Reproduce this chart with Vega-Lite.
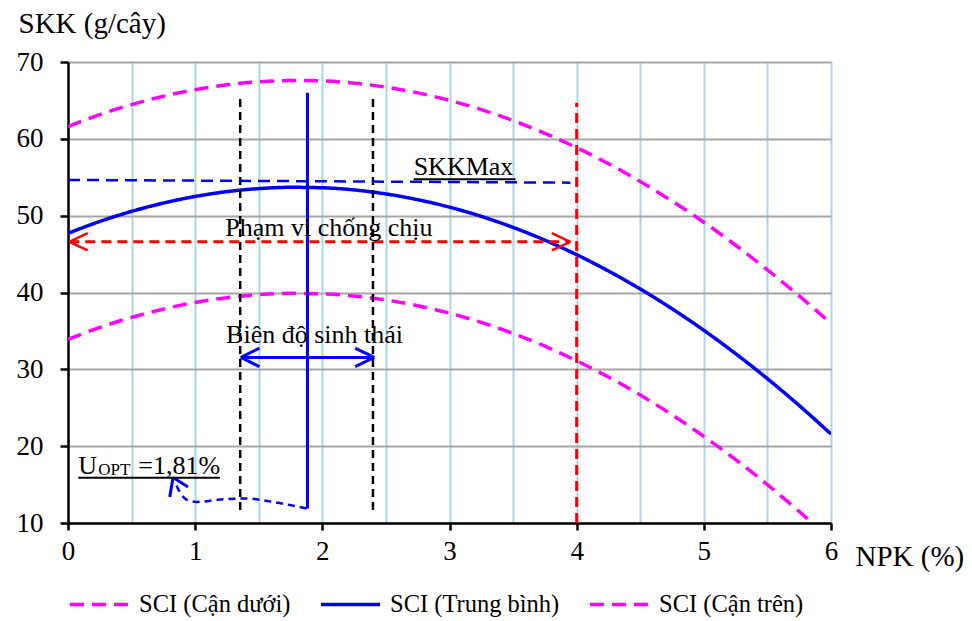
{
  "$schema": "https://vega.github.io/schema/vega-lite/v6.json",
  "autosize": {"type": "none"},
  "padding": {"left": 68, "top": 62, "right": 141, "bottom": 98},
  "width": 763,
  "height": 461,
  "background": "white",
  "config": {
    "view": {"stroke": null},
    "font": "Liberation Serif",
    "axis": {
      "labelFont": "Liberation Serif", "labelFontSize": 27, "labelColor": "black",
      "titleFont": "Liberation Serif", "titleFontSize": 29, "titleFontWeight": "normal", "titleColor": "black",
      "domainColor": "black", "domainWidth": 2.5, "tickColor": "black", "tickWidth": 2.5
    },
    "legend": {
      "orient": "none", "legendX": 0, "legendY": 511, "direction": "horizontal",
      "labelFont": "Liberation Serif", "labelFontSize": 24.5, "labelColor": "black", "labelLimit": 400,
      "symbolType": "stroke", "symbolSize": 3500, "symbolStrokeWidth": 3.5, "labelOffset": 8,
      "columnPadding": 22, "padding": 0, "title": null
    }
  },
  "datasets": {
    "curves": [
      {"npk": 0, "skk": 33.90, "series": "SCI (Cận dưới)"},
      {"npk": 0.25, "skk": 35.45, "series": "SCI (Cận dưới)"},
      {"npk": 0.5, "skk": 36.76, "series": "SCI (Cận dưới)"},
      {"npk": 0.75, "skk": 37.84, "series": "SCI (Cận dưới)"},
      {"npk": 1.0, "skk": 38.70, "series": "SCI (Cận dưới)"},
      {"npk": 1.25, "skk": 39.33, "series": "SCI (Cận dưới)"},
      {"npk": 1.5, "skk": 39.72, "series": "SCI (Cận dưới)"},
      {"npk": 1.75, "skk": 39.89, "series": "SCI (Cận dưới)"},
      {"npk": 2.0, "skk": 39.83, "series": "SCI (Cận dưới)"},
      {"npk": 2.25, "skk": 39.55, "series": "SCI (Cận dưới)"},
      {"npk": 2.5, "skk": 39.03, "series": "SCI (Cận dưới)"},
      {"npk": 2.75, "skk": 38.28, "series": "SCI (Cận dưới)"},
      {"npk": 3.0, "skk": 37.31, "series": "SCI (Cận dưới)"},
      {"npk": 3.25, "skk": 36.11, "series": "SCI (Cận dưới)"},
      {"npk": 3.5, "skk": 34.67, "series": "SCI (Cận dưới)"},
      {"npk": 3.75, "skk": 33.01, "series": "SCI (Cận dưới)"},
      {"npk": 4.0, "skk": 31.12, "series": "SCI (Cận dưới)"},
      {"npk": 4.25, "skk": 29.00, "series": "SCI (Cận dưới)"},
      {"npk": 4.5, "skk": 26.66, "series": "SCI (Cận dưới)"},
      {"npk": 4.75, "skk": 24.08, "series": "SCI (Cận dưới)"},
      {"npk": 5.0, "skk": 21.28, "series": "SCI (Cận dưới)"},
      {"npk": 5.25, "skk": 18.24, "series": "SCI (Cận dưới)"},
      {"npk": 5.5, "skk": 14.98, "series": "SCI (Cận dưới)"},
      {"npk": 5.75, "skk": 11.49, "series": "SCI (Cận dưới)"},
      {"npk": 6.0, "skk": 7.77, "series": "SCI (Cận dưới)"},
      {"npk": 0, "skk": 47.70, "series": "SCI (Trung bình)"},
      {"npk": 0.25, "skk": 49.25, "series": "SCI (Trung bình)"},
      {"npk": 0.5, "skk": 50.56, "series": "SCI (Trung bình)"},
      {"npk": 0.75, "skk": 51.64, "series": "SCI (Trung bình)"},
      {"npk": 1.0, "skk": 52.50, "series": "SCI (Trung bình)"},
      {"npk": 1.25, "skk": 53.13, "series": "SCI (Trung bình)"},
      {"npk": 1.5, "skk": 53.52, "series": "SCI (Trung bình)"},
      {"npk": 1.75, "skk": 53.69, "series": "SCI (Trung bình)"},
      {"npk": 2.0, "skk": 53.63, "series": "SCI (Trung bình)"},
      {"npk": 2.25, "skk": 53.35, "series": "SCI (Trung bình)"},
      {"npk": 2.5, "skk": 52.83, "series": "SCI (Trung bình)"},
      {"npk": 2.75, "skk": 52.08, "series": "SCI (Trung bình)"},
      {"npk": 3.0, "skk": 51.11, "series": "SCI (Trung bình)"},
      {"npk": 3.25, "skk": 49.91, "series": "SCI (Trung bình)"},
      {"npk": 3.5, "skk": 48.47, "series": "SCI (Trung bình)"},
      {"npk": 3.75, "skk": 46.81, "series": "SCI (Trung bình)"},
      {"npk": 4.0, "skk": 44.92, "series": "SCI (Trung bình)"},
      {"npk": 4.25, "skk": 42.80, "series": "SCI (Trung bình)"},
      {"npk": 4.5, "skk": 40.46, "series": "SCI (Trung bình)"},
      {"npk": 4.75, "skk": 37.88, "series": "SCI (Trung bình)"},
      {"npk": 5.0, "skk": 35.08, "series": "SCI (Trung bình)"},
      {"npk": 5.25, "skk": 32.04, "series": "SCI (Trung bình)"},
      {"npk": 5.5, "skk": 28.78, "series": "SCI (Trung bình)"},
      {"npk": 5.75, "skk": 25.29, "series": "SCI (Trung bình)"},
      {"npk": 6.0, "skk": 21.57, "series": "SCI (Trung bình)"},
      {"npk": 0, "skk": 61.60, "series": "SCI (Cận trên)"},
      {"npk": 0.25, "skk": 63.15, "series": "SCI (Cận trên)"},
      {"npk": 0.5, "skk": 64.46, "series": "SCI (Cận trên)"},
      {"npk": 0.75, "skk": 65.54, "series": "SCI (Cận trên)"},
      {"npk": 1.0, "skk": 66.40, "series": "SCI (Cận trên)"},
      {"npk": 1.25, "skk": 67.03, "series": "SCI (Cận trên)"},
      {"npk": 1.5, "skk": 67.42, "series": "SCI (Cận trên)"},
      {"npk": 1.75, "skk": 67.59, "series": "SCI (Cận trên)"},
      {"npk": 2.0, "skk": 67.53, "series": "SCI (Cận trên)"},
      {"npk": 2.25, "skk": 67.25, "series": "SCI (Cận trên)"},
      {"npk": 2.5, "skk": 66.73, "series": "SCI (Cận trên)"},
      {"npk": 2.75, "skk": 65.98, "series": "SCI (Cận trên)"},
      {"npk": 3.0, "skk": 65.01, "series": "SCI (Cận trên)"},
      {"npk": 3.25, "skk": 63.81, "series": "SCI (Cận trên)"},
      {"npk": 3.5, "skk": 62.37, "series": "SCI (Cận trên)"},
      {"npk": 3.75, "skk": 60.71, "series": "SCI (Cận trên)"},
      {"npk": 4.0, "skk": 58.85, "series": "SCI (Cận trên)"},
      {"npk": 4.25, "skk": 56.76, "series": "SCI (Cận trên)"},
      {"npk": 4.5, "skk": 54.45, "series": "SCI (Cận trên)"},
      {"npk": 4.75, "skk": 51.90, "series": "SCI (Cận trên)"},
      {"npk": 5.0, "skk": 49.15, "series": "SCI (Cận trên)"},
      {"npk": 5.25, "skk": 46.15, "series": "SCI (Cận trên)"},
      {"npk": 5.5, "skk": 42.95, "series": "SCI (Cận trên)"},
      {"npk": 5.75, "skk": 39.55, "series": "SCI (Cận trên)"},
      {"npk": 6.0, "skk": 36.00, "series": "SCI (Cận trên)"}
    ],
    "blackDashed": [
      {"x": 1.354, "y": 11.7, "x2": 1.354, "y2": 65.8},
      {"x": 2.398, "y": 11.7, "x2": 2.398, "y2": 65.8}
    ],
    "redDashed": [
      {"x": 4.0, "y": 10, "x2": 4.0, "y2": 64.7},
      {"x": 0.01, "y": 46.6, "x2": 3.95, "y2": 46.6}
    ],
    "redSolid": [
      {"x": 0.01, "y": 46.6, "x2": 0.155, "y2": 47.73},
      {"x": 0.01, "y": 46.6, "x2": 0.155, "y2": 45.47},
      {"x": 3.95, "y": 46.6, "x2": 3.805, "y2": 47.73},
      {"x": 3.95, "y": 46.6, "x2": 3.805, "y2": 45.47}
    ],
    "blueDashedRule": [
      {"x": 0, "y": 54.65, "x2": 3.95, "y2": 54.3}
    ],
    "blueCurve": [
      {"i": 0, "x": 1.876, "y": 11.88},
      {"i": 1, "x": 1.613, "y": 12.74},
      {"i": 2, "x": 1.404, "y": 13.18},
      {"i": 3, "x": 1.194, "y": 13.05},
      {"i": 4, "x": 1.010, "y": 12.74},
      {"i": 5, "x": 0.932, "y": 13.05},
      {"i": 6, "x": 0.879, "y": 14.04},
      {"i": 7, "x": 0.840, "y": 15.34}
    ],
    "blueSolid": [
      {"x": 1.883, "y": 11.9, "x2": 1.883, "y2": 66.0},
      {"x": 1.359, "y": 31.55, "x2": 2.408, "y2": 31.55},
      {"x": 1.359, "y": 31.55, "x2": 1.505, "y2": 32.75},
      {"x": 1.359, "y": 31.55, "x2": 1.505, "y2": 30.35},
      {"x": 2.408, "y": 31.55, "x2": 2.258, "y2": 32.75},
      {"x": 2.408, "y": 31.55, "x2": 2.258, "y2": 30.35},
      {"x": 0.826, "y": 15.92, "x2": 0.800, "y2": 13.39},
      {"x": 0.826, "y": 15.92, "x2": 0.944, "y2": 14.69}
    ],
    "underlines": [
      {"x": 2.718, "y": 54.75, "x2": 3.52, "y2": 54.75},
      {"x": 0.081, "y": 15.9, "x2": 1.196, "y2": 15.9}
    ],
    "labels": [
      {"x": 2.718, "y": 55.3, "text": "SKKMax"},
      {"x": 1.236, "y": 47.3, "text": "Phạm vi chống chịu"},
      {"x": 1.243, "y": 33.4, "text": "Biên độ sinh thái"},
      {"x": 0.081, "y": 16.44, "text": "U"},
      {"x": 0.553, "y": 16.44, "text": "=1,81%"}
    ],
    "subLabels": [
      {"x": 0.238, "y": 16.2, "text": "OPT"}
    ]
  },
  "layer": [
    {
      "data": {"name": "curves"},
      "mark": {"type": "line", "interpolate": "monotone", "strokeWidth": 3.5, "clip": true},
      "encoding": {
        "x": {
          "field": "npk", "type": "quantitative",
          "scale": {"domain": [0, 6], "nice": false, "zero": false},
          "axis": {
            "title": "NPK (%)", "titleAngle": 0, "titleAlign": "left", "titleBaseline": "alphabetic",
            "titleX": 787, "titleY": 42,
            "values": [0, 0.5, 1, 1.5, 2, 2.5, 3, 3.5, 4, 4.5, 5, 5.5, 6],
            "labelExpr": "datum.value % 1 === 0 ? '' + datum.value : ''",
            "tickOpacity": {"condition": {"test": "datum.value % 1 !== 0", "value": 0}, "value": 1},
            "tickSize": 7, "labelPadding": 8, "labelFlush": false, "labelOverlap": false,
            "grid": true, "gridColor": "#a8d8e6", "gridWidth": 2
          }
        },
        "y": {
          "field": "skk", "type": "quantitative",
          "scale": {"domain": [10, 70], "nice": false, "zero": false},
          "axis": {
            "title": "SKK (g/cây)", "titleAngle": 0, "titleAlign": "left", "titleBaseline": "alphabetic",
            "titleX": -50, "titleY": -30,
            "values": [10, 20, 30, 40, 50, 60, 70],
            "tickSize": 8, "labelPadding": 17, "labelFlush": false,
            "grid": true, "gridColor": "#a6a6a6", "gridWidth": 2
          }
        },
        "color": {
          "field": "series", "type": "nominal",
          "scale": {"domain": ["SCI (Cận dưới)", "SCI (Trung bình)", "SCI (Cận trên)"], "range": ["#ff00ff", "#0000ff", "#ff00ff"]}
        },
        "strokeDash": {
          "field": "series", "type": "nominal",
          "scale": {"domain": ["SCI (Cận dưới)", "SCI (Trung bình)", "SCI (Cận trên)"], "range": [[14, 8], [1, 0], [14, 8]]}
        }
      }
    },
    {
      "data": {"name": "blackDashed"},
      "mark": {"type": "rule", "color": "black", "strokeWidth": 2.5, "strokeDash": [8, 5]},
      "encoding": {"x": {"field": "x", "type": "quantitative"}, "y": {"field": "y", "type": "quantitative"}, "x2": {"field": "x2"}, "y2": {"field": "y2"}}
    },
    {
      "data": {"name": "redDashed"},
      "mark": {"type": "rule", "color": "#ff0000", "strokeWidth": 3, "strokeDash": [10, 6]},
      "encoding": {"x": {"field": "x", "type": "quantitative"}, "y": {"field": "y", "type": "quantitative"}, "x2": {"field": "x2"}, "y2": {"field": "y2"}}
    },
    {
      "data": {"name": "redSolid"},
      "mark": {"type": "rule", "color": "#ff0000", "strokeWidth": 2.5},
      "encoding": {"x": {"field": "x", "type": "quantitative"}, "y": {"field": "y", "type": "quantitative"}, "x2": {"field": "x2"}, "y2": {"field": "y2"}}
    },
    {
      "data": {"name": "blueDashedRule"},
      "mark": {"type": "rule", "color": "#0000ff", "strokeWidth": 2.5, "strokeDash": [12, 7]},
      "encoding": {"x": {"field": "x", "type": "quantitative"}, "y": {"field": "y", "type": "quantitative"}, "x2": {"field": "x2"}, "y2": {"field": "y2"}}
    },
    {
      "data": {"name": "blueCurve"},
      "mark": {"type": "line", "color": "#0000ff", "strokeWidth": 2.5, "strokeDash": [7, 5], "interpolate": "monotone"},
      "encoding": {"x": {"field": "x", "type": "quantitative"}, "y": {"field": "y", "type": "quantitative"}, "order": {"field": "i"}}
    },
    {
      "data": {"name": "blueSolid"},
      "mark": {"type": "rule", "color": "#0000ff", "strokeWidth": 3},
      "encoding": {"x": {"field": "x", "type": "quantitative"}, "y": {"field": "y", "type": "quantitative"}, "x2": {"field": "x2"}, "y2": {"field": "y2"}}
    },
    {
      "data": {"name": "underlines"},
      "mark": {"type": "rule", "color": "black", "strokeWidth": 2},
      "encoding": {"x": {"field": "x", "type": "quantitative"}, "y": {"field": "y", "type": "quantitative"}, "x2": {"field": "x2"}, "y2": {"field": "y2"}}
    },
    {
      "data": {"name": "labels"},
      "mark": {"type": "text", "font": "Liberation Serif", "fontSize": 26, "color": "black", "align": "left", "baseline": "alphabetic"},
      "encoding": {"x": {"field": "x", "type": "quantitative"}, "y": {"field": "y", "type": "quantitative"}, "text": {"field": "text"}}
    },
    {
      "data": {"name": "subLabels"},
      "mark": {"type": "text", "font": "Liberation Serif", "fontSize": 17, "color": "black", "align": "left", "baseline": "alphabetic"},
      "encoding": {"x": {"field": "x", "type": "quantitative"}, "y": {"field": "y", "type": "quantitative"}, "text": {"field": "text"}}
    }
  ]
}
